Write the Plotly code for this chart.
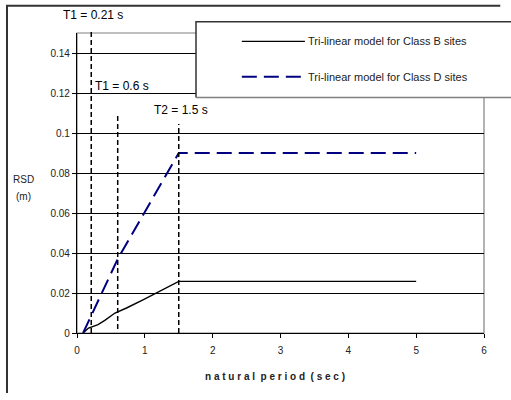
import plotly.graph_objects as go

# Relative spectral displacement (RSD) tri-linear models
series_names = ["Tri-linear model for Class B sites", "Tri-linear model for Class D sites"]

period_b = [0.09, 0.17, 0.31, 0.41, 0.56, 0.73, 0.98, 1.17, 1.27, 1.5, 5.0]
rsd_b = [0.0, 0.0025, 0.0042, 0.0063, 0.0100, 0.0125, 0.0167, 0.0200, 0.0220, 0.0258, 0.0258]

period_d = [0.09, 0.6, 1.5, 5.0]
rsd_d = [0.0, 0.037, 0.090, 0.090]

# Corner periods marked with vertical dashed lines
corner_labels = ["T1 = 0.21 s", "T1 = 0.6 s", "T2 = 1.5 s"]
corner_periods = [0.21, 0.6, 1.5]
corner_top = [0.152, 0.110, 0.1045]
corner_bottom = [0.0, 0.002, 0.0]

x_ticks = [0, 1, 2, 3, 4, 5, 6]
y_ticks = [0, 0.02, 0.04, 0.06, 0.08, 0.10, 0.12, 0.14]
y_tick_text = ["0", "0.02", "0.04", "0.06", "0.08", "0.1", "0.12", "0.14"]

X_MAX, Y_MAX = 6, 0.15
FONT = "Liberation Sans, Arial, sans-serif"

W, H = 511, 400
M_L, M_R, M_T, M_B = 77, 27, 33, 67
PLOT_W, PLOT_H = W - M_L - M_R, H - M_T - M_B
# paper-coordinate limits of the page
PX_RIGHT = (W - M_L) / PLOT_W
PX_BOTTOM = -M_B / PLOT_H

fig = go.Figure()
fig.add_trace(go.Scatter(x=period_b, y=rsd_b, mode="lines", name=series_names[0],
                         line=dict(color="black", width=1.4), showlegend=False))
fig.add_trace(go.Scatter(x=period_d, y=rsd_d, mode="lines", name=series_names[1],
                         line=dict(color="#000080", width=2, dash="15px,7px"), showlegend=False))

shapes = []


def polyline(points, color, width, layer="above"):
    d = "M " + " L ".join(f"{x},{y}" for x, y in points)
    return dict(type="path", xref="paper", yref="paper", path=d,
                line=dict(color=color, width=width), layer=layer)


# outer chart frame: left and top edges
shapes.append(polyline([(-0.172, -0.2), (-0.172, 1.091), (1.04, 1.091)], "#333333", 2, "below"))
# plot-area frame (top / right in grey)
shapes.append(dict(type="rect", xref="paper", yref="paper", x0=0, x1=1, y0=0, y1=1,
                   line=dict(color="#808080", width=1.2), layer="below"))

# corner-period markers
for t, top, bot in zip(corner_periods, corner_top, corner_bottom):
    shapes.append(dict(type="line", xref="x", yref="paper", x0=t, x1=t,
                       y0=bot / Y_MAX, y1=top / Y_MAX,
                       line=dict(color="black", width=1.5, dash="5px,3px"), layer="above"))

# legend box, open on the right where it leaves the page
lg_x0, lg_y0, lg_y1 = 0.2924, 0.785, 1.0378
shapes.append(dict(type="rect", xref="paper", yref="paper", x0=lg_x0, x1=PX_RIGHT, y0=lg_y0, y1=lg_y1,
                   fillcolor="white", line=dict(color="rgba(0,0,0,0)", width=0), layer="above"))
shapes.append(polyline([(PX_RIGHT, lg_y1), (lg_x0, lg_y1), (lg_x0, lg_y0)], "#333333", 1.5))
shapes.append(polyline([(lg_x0, lg_y0), (PX_RIGHT, lg_y0)], "#808080", 1.5))

legend_rows = [0.972, 0.854]
legend_styles = [dict(color="black", width=1.4), dict(color="#000080", width=2, dash="15px,7px")]
for yy, st in zip(legend_rows, legend_styles):
    shapes.append(dict(type="line", xref="paper", yref="paper", x0=0.405, x1=0.560, y0=yy, y1=yy,
                       line=st, layer="above"))

annotations = []
for name, yy in zip(series_names, legend_rows):
    annotations.append(dict(text=name, xref="paper", yref="paper", x=0.562, y=yy,
                            xanchor="left", yanchor="middle", showarrow=False,
                            font=dict(family=FONT, size=11, color="#222")))

label_pos = [(-0.039, 1.0587), (0.0385, 0.822), (0.184, 0.744)]
for lab, (lx, ly) in zip(corner_labels, label_pos):
    annotations.append(dict(text=lab, xref="paper", yref="paper", x=lx, y=ly,
                            xanchor="left", yanchor="middle", showarrow=False,
                            font=dict(family=FONT, size=12, color="black")))

annotations.append(dict(text="RSD", xref="paper", yref="paper", x=-0.131, y=0.511,
                        xanchor="center", yanchor="middle", showarrow=False,
                        font=dict(family=FONT, size=10, color="#222")))
annotations.append(dict(text="(m)", xref="paper", yref="paper", x=-0.131, y=0.455,
                        xanchor="center", yanchor="middle", showarrow=False,
                        font=dict(family=FONT, size=10, color="#222")))
x_title = "n a t u r a l\u00a0 p e r i o d\u00a0 ( s e c )"
annotations.append(dict(text=x_title, xref="paper", yref="paper", x=0.486, y=-0.145,
                        xanchor="center", yanchor="middle", showarrow=False,
                        font=dict(family=FONT, size=10, color="#222", weight="bold")))

fig.update_layout(
    width=W, height=H,
    margin=dict(l=M_L, r=M_R, t=M_T, b=M_B),
    paper_bgcolor="white", plot_bgcolor="white",
    showlegend=False,
    shapes=shapes,
    annotations=annotations,
    xaxis=dict(range=[0, X_MAX], tickvals=x_ticks, showgrid=False, zeroline=False,
               showline=True, linecolor="black", linewidth=1.2,
               ticks="outside", ticklen=4, tickcolor="black", ticklabelstandoff=4,
               tickfont=dict(family=FONT, size=10, color="#222")),
    yaxis=dict(range=[0, Y_MAX], tickvals=y_ticks, ticktext=y_tick_text,
               showgrid=True, gridcolor="black", gridwidth=1, zeroline=False,
               showline=True, linecolor="black", linewidth=1.2,
               ticks="outside", ticklen=4, tickcolor="black",
               tickfont=dict(family=FONT, size=10, color="#222")),
)

fig.write_html("out.html")
